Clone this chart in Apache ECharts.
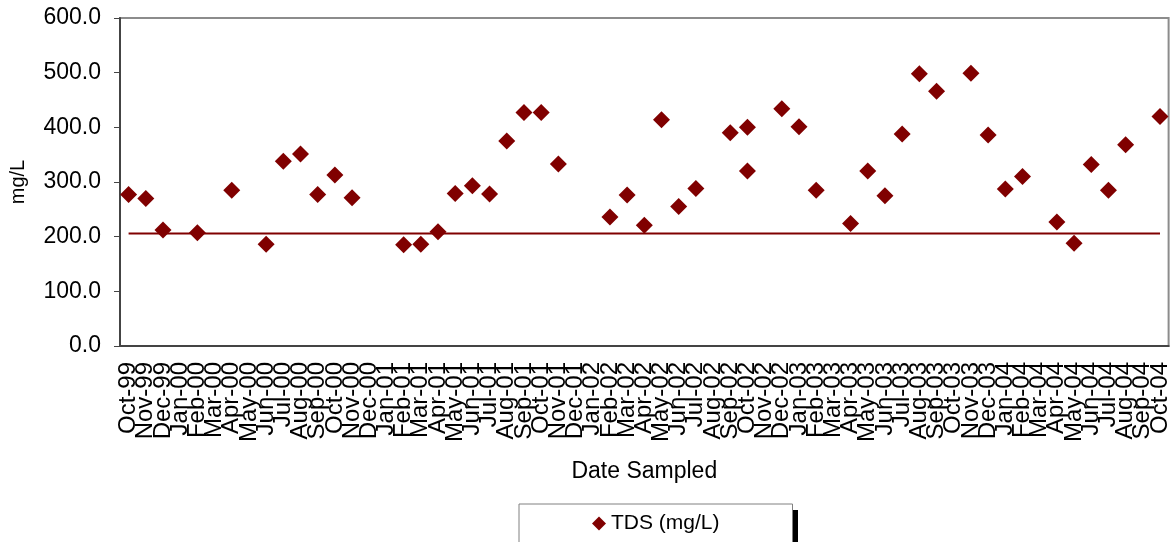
<!DOCTYPE html>
<html>
<head>
<meta charset="utf-8">
<script src="https://cdn.jsdelivr.net/npm/echarts@6/dist/echarts.min.js"></script>
<style>
html,body{margin:0;padding:0;background:#fff;}
#chart{width:1172px;height:542px;}
</style>
</head>
<body>
<div id="chart"></div>
<script>
// Month categories on the date axis
const months = ["Oct-99","Nov-99","Dec-99","Jan-00","Feb-00","Mar-00","Apr-00","May-00","Jun-00","Jul-00","Aug-00","Sep-00","Oct-00","Nov-00","Dec-00","Jan-01","Feb-01","Mar-01","Apr-01","May-01","Jun-01","Jul-01","Aug-01","Sep-01","Oct-01","Nov-01","Dec-01","Jan-02","Feb-02","Mar-02","Apr-02","May-02","Jun-02","Jul-02","Aug-02","Sep-02","Oct-02","Nov-02","Dec-02","Jan-03","Feb-03","Mar-03","Apr-03","May-03","Jun-03","Jul-03","Aug-03","Sep-03","Oct-03","Nov-03","Dec-03","Jan-04","Feb-04","Mar-04","Apr-04","May-04","Jun-04","Jul-04","Aug-04","Sep-04","Oct-04"];

// Sample months and TDS values (mg/L)
const sampleMonths = ["Oct-99","Nov-99","Dec-99","Feb-00","Apr-00","Jun-00","Jul-00","Aug-00","Sep-00","Oct-00","Nov-00","Feb-01","Mar-01","Apr-01","May-01","Jun-01","Jul-01","Aug-01","Sep-01","Oct-01","Nov-01","Feb-02","Mar-02","Apr-02","May-02","Jun-02","Jul-02","Sep-02","Oct-02","Oct-02","Dec-02","Jan-03","Feb-03","Apr-03","May-03","Jun-03","Jul-03","Aug-03","Sep-03","Nov-03","Dec-03","Jan-04","Feb-04","Apr-04","May-04","Jun-04","Jul-04","Aug-04","Oct-04"];
const tdsValues = [277,270,212,207,285,186,338,351,277,313,271,185,186,209,279,293,278,375,427,427,333,236,276,221,414,255,288,390,400,320,434,401,285,224,320,275,388,498,466,499,386,287,310,227,188,332,285,368,420];

// Reference level line
const refMonths = ["Oct-99","Oct-04"];
const refValue = 206;

// Y-axis ticks
const yMin = 0, yMax = 600, yStep = 100;

const font = "'Liberation Sans', Arial, sans-serif";
const chart = echarts.init(document.getElementById('chart'));
const tdsData = sampleMonths.map((m, i) => [m, tdsValues[i]]);
const refData = refMonths.map(m => [m, refValue]);

chart.setOption({
  animation: false,
  backgroundColor: '#ffffff',
  textStyle: { fontFamily: font },
  grid: {
    left: 120, right: 2, top: 18, bottom: 196,
    show: true, borderColor: '#8c8c8c', borderWidth: 2, backgroundColor: 'transparent'
  },
  graphic: [{
    type: 'rect',
    z: -1,
    shape: { x: 525, y: 510, width: 273, height: 40 },
    style: { fill: '#000000' }
  }],
  legend: {
    data: ['TDS (mg/L)'],
    left: 519, top: 504,
    padding: [9, 73, 12, 73],
    itemWidth: 14, itemHeight: 14, itemGap: 6,
    backgroundColor: '#ffffff',
    borderColor: '#808080', borderWidth: 1,
    textStyle: { fontFamily: font, fontSize: 21, color: '#000' },
    z: 10
  },
  xAxis: {
    type: 'category',
    data: months,
    boundaryGap: true,
    name: 'Date Sampled',
    nameLocation: 'middle',
    nameGap: 114,
    nameTextStyle: { fontFamily: font, fontSize: 23, color: '#000' },
    axisLine: { show: true, lineStyle: { color: '#444', width: 2 } },
    axisTick: { show: false },
    axisLabel: {
      interval: 0, rotate: 90, margin: 16,
      fontFamily: font, fontSize: 24, color: '#000'
    },
    splitLine: { show: false }
  },
  yAxis: {
    type: 'value',
    min: yMin, max: yMax, interval: yStep,
    name: 'mg/L',
    nameLocation: 'middle',
    nameGap: 92,
    nameRotate: 90,
    nameTextStyle: { fontFamily: font, fontSize: 20, color: '#000' },
    axisLine: { show: true, lineStyle: { color: '#444', width: 2 } },
    axisTick: { show: true, inside: false, length: 6, lineStyle: { color: '#444', width: 1 } },
    axisLabel: {
      margin: 19, fontFamily: font, fontSize: 23, color: '#000',
      formatter: v => v.toFixed(1)
    },
    splitLine: { show: false }
  },
  series: [
    {
      name: 'Reference',
      type: 'line',
      data: refData,
      symbol: 'none',
      lineStyle: { color: '#800000', width: 2 },
      z: 1,
      silent: true
    },
    {
      name: 'TDS (mg/L)',
      type: 'scatter',
      data: tdsData,
      symbol: 'diamond',
      symbolSize: 17,
      itemStyle: { color: '#800000', opacity: 1 },
      z: 3
    }
  ]
});
</script>
</body>
</html>
